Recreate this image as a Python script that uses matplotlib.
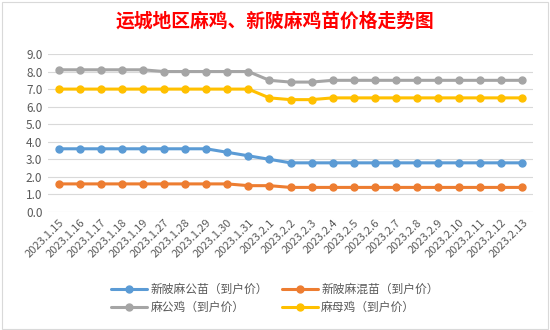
import matplotlib
matplotlib.use("Agg")
import matplotlib.pyplot as plt
from matplotlib.patches import Rectangle

plt.rcParams['font.family'] = ['Noto Sans CJK SC', 'DejaVu Sans']

dates = ['2023.1.15', '2023.1.16', '2023.1.17', '2023.1.18', '2023.1.19',
         '2023.1.27', '2023.1.28', '2023.1.29', '2023.1.30', '2023.1.31',
         '2023.2.1', '2023.2.2', '2023.2.3', '2023.2.4', '2023.2.5',
         '2023.2.6', '2023.2.7', '2023.2.8', '2023.2.9', '2023.2.10',
         '2023.2.11', '2023.2.12', '2023.2.13']

chick_male = [3.6, 3.6, 3.6, 3.6, 3.6, 3.6, 3.6, 3.6, 3.4, 3.2,
              3.0, 2.8, 2.8, 2.8, 2.8, 2.8, 2.8, 2.8, 2.8, 2.8, 2.8, 2.8, 2.8]
chick_mixed = [1.6, 1.6, 1.6, 1.6, 1.6, 1.6, 1.6, 1.6, 1.6, 1.5,
               1.5, 1.4, 1.4, 1.4, 1.4, 1.4, 1.4, 1.4, 1.4, 1.4, 1.4, 1.4, 1.4]
rooster = [8.1, 8.1, 8.1, 8.1, 8.1, 8.0, 8.0, 8.0, 8.0, 8.0,
           7.5, 7.4, 7.4, 7.5, 7.5, 7.5, 7.5, 7.5, 7.5, 7.5, 7.5, 7.5, 7.5]
hen = [7.0, 7.0, 7.0, 7.0, 7.0, 7.0, 7.0, 7.0, 7.0, 7.0,
       6.5, 6.4, 6.4, 6.5, 6.5, 6.5, 6.5, 6.5, 6.5, 6.5, 6.5, 6.5, 6.5]

series = [
    ('新陂麻公苗（到户价）', chick_male, '#5B9BD5'),
    ('新陂麻混苗（到户价）', chick_mixed, '#ED7D31'),
    ('麻公鸡（到户价）', rooster, '#A5A5A5'),
    ('麻母鸡（到户价）', hen, '#FFC000'),
]

fig = plt.figure(figsize=(5.5, 3.3), dpi=100)
fig.patches.append(Rectangle((0.004, 0.004), 0.992, 0.99, transform=fig.transFigure,
                             fill=False, edgecolor='#D9D9D9', linewidth=0.8))

ax = fig.add_axes([48 / 550, 0.3576, (533 - 48) / 550, 0.4788])
x = list(range(len(dates)))
lines = []
for label, vals, color in series:
    ln, = ax.plot(x, vals, color=color, linewidth=2.2, marker='o', markersize=5,
                  label=label, solid_capstyle='round')
    lines.append(ln)

ax.set_xlim(-0.5, len(dates) - 0.5)
ax.set_ylim(0, 9)
ax.set_yticks([i for i in range(10)])
ax.set_yticklabels([f'{i:.1f}' for i in range(10)], fontsize=8.5, color='#595959')
ax.yaxis.grid(True, color='#D9D9D9', linewidth=0.8)
ax.set_axisbelow(True)
ax.set_xticks(x)
ax.set_xticklabels(dates, rotation=45, ha='right', rotation_mode='anchor',
                   fontsize=8, color='#595959')
ax.tick_params(axis='both', length=0, pad=4)
for s in ax.spines.values():
    s.set_visible(False)

fig.text(0.5, 0.935, '运城地区麻鸡、新陂麻鸡苗价格走势图', ha='center', va='center',
         fontsize=13.5, fontweight='bold', color='#FF0000')

# legend fills column-wise, so reorder to get row-wise layout
order = [0, 2, 1, 3]
fig.legend([lines[i] for i in order], [series[i][0] for i in order],
           loc='center', bbox_to_anchor=(0.5, 0.095), ncol=2, frameon=False,
           fontsize=8.5, handlelength=3, columnspacing=1.2, labelspacing=0.45,
           labelcolor='#595959', handletextpad=0.3)

fig.savefig('out.png', dpi=100)
